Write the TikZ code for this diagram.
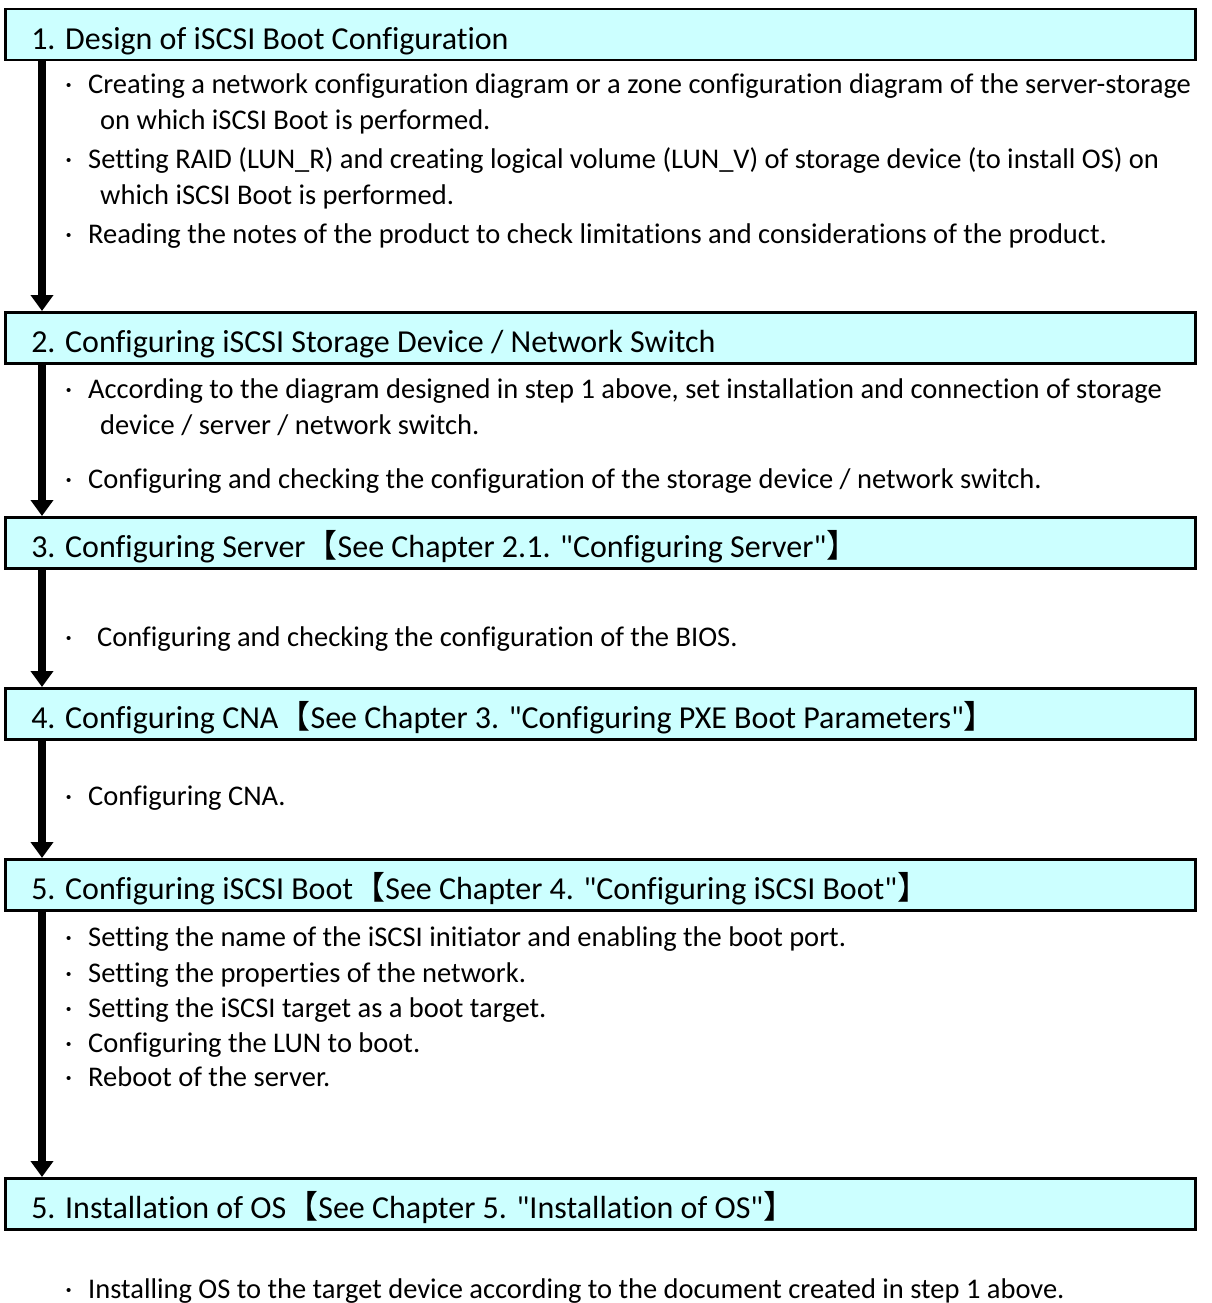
\documentclass[tikz,border=0pt]{standalone}
\usepackage{fontspec}
\setmainfont{Carlito}[Ligatures={TeXOff,CommonOff}]
\newfontfamily\cjk{Noto Sans CJK JP}
\usetikzlibrary{arrows.meta}
\definecolor{boxcyan}{HTML}{CCFFFF}
\newcommand\headfont{\fontsize{32}{38}\selectfont}
\newcommand\bodyfont{\fontsize{28.5}{34}\selectfont}
\newcommand\openbr{{\cjk 【}}
\newcommand\closebr{{\cjk 】}}
\newcommand\dotmark[1][16pt]{\llap{·\hspace{#1}}}
\tikzset{stepbox/.style = {draw=black, line width=2.5pt, fill=boxcyan, anchor=north west,
  minimum width=1190pt, minimum height=51pt, inner xsep=26pt, inner ysep=0pt,
  text width=1138pt, align=flush left, text height=33pt, text depth=4pt, font=\headfont}}
\tikzset{item/.style = {anchor=base west, inner sep=0pt, font=\bodyfont}}
\tikzset{flow/.style = {-{Triangle[width=22pt,length=16pt]}, line width=8pt}}

\begin{document}
\begin{tikzpicture}[x=1pt,y=-1pt]
		\useasboundingbox (0,0) rectangle (1211,1303);
		\coordinate (spine) at (42,0);

		% steps
		\node[stepbox] (step1) at (4,8) {1. Design of iSCSI Boot Configuration};
		\node[stepbox] (step2) at (4,311) {2. Configuring iSCSI Storage Device / Network Switch};
		\node[stepbox] (step3) at (4,516) {3. Configuring Server\openbr See Chapter 2.1. "Configuring Server"\closebr};
		\node[stepbox] (step4) at (4,687) {4. Configuring CNA\openbr See Chapter 3. "Configuring PXE Boot Parameters"\closebr};
		\node[stepbox] (step5) at (4,858) {5. Configuring iSCSI Boot\openbr See Chapter 4. "Configuring iSCSI Boot"\closebr};
		\node[stepbox] (step6) at (4,1177) {5. Installation of OS\openbr See Chapter 5. "Installation of OS"\closebr};

		% items of step 1
		\node[item] (a1) at (88,94) {\dotmark Creating a network configuration diagram or a zone configuration diagram of the server-storage};
		\node[item] (a1b) at (100,130) {on which iSCSI Boot is performed.};
		\node[item] (a2) at (88,168) {\dotmark Setting RAID (LUN\_R) and creating logical volume (LUN\_V) of storage device (to install OS) on};
		\node[item] (a2b) at (100,204) {which iSCSI Boot is performed.};
		\node[item] (a3) at (88,243) {\dotmark Reading the notes of the product to check limitations and considerations of the product.};

		% items of step 2
		\node[item] (b1) at (88,398) {\dotmark According to the diagram designed in step 1 above, set installation and connection of storage};
		\node[item] (b1b) at (100,434) {device / server / network switch.};
		\node[item] (b2) at (88,488) {\dotmark Configuring and checking the configuration of the storage device / network switch.};

		% items of step 3
		\node[item] (c1) at (97,646) {\dotmark[25pt]Configuring and checking the configuration of the BIOS.};

		% items of step 4
		\node[item] (d1) at (88,805) {\dotmark Configuring CNA.};

		% items of step 5
		\node[item] (e1) at (88,946) {\dotmark Setting the name of the iSCSI initiator and enabling the boot port.};
		\node[item] (e2) at (88,982) {\dotmark Setting the properties of the network.};
		\node[item] (e3) at (88,1017) {\dotmark Setting the iSCSI target as a boot target.};
		\node[item] (e4) at (88,1052) {\dotmark Configuring the LUN to boot.};
		\node[item] (e5) at (88,1086) {\dotmark Reboot of the server.};

		% items of step 6
		\node[item] (f1) at (88,1298) {\dotmark Installing OS to the target device according to the document created in step 1 above.};

		% flow
		\draw[flow] (step1.south -| spine) -- (step2.north -| spine);
		\draw[flow] (step2.south -| spine) -- (step3.north -| spine);
		\draw[flow] (step3.south -| spine) -- (step4.north -| spine);
		\draw[flow] (step4.south -| spine) -- (step5.north -| spine);
		\draw[flow] (step5.south -| spine) -- (step6.north -| spine);
\end{tikzpicture}
\end{document}
